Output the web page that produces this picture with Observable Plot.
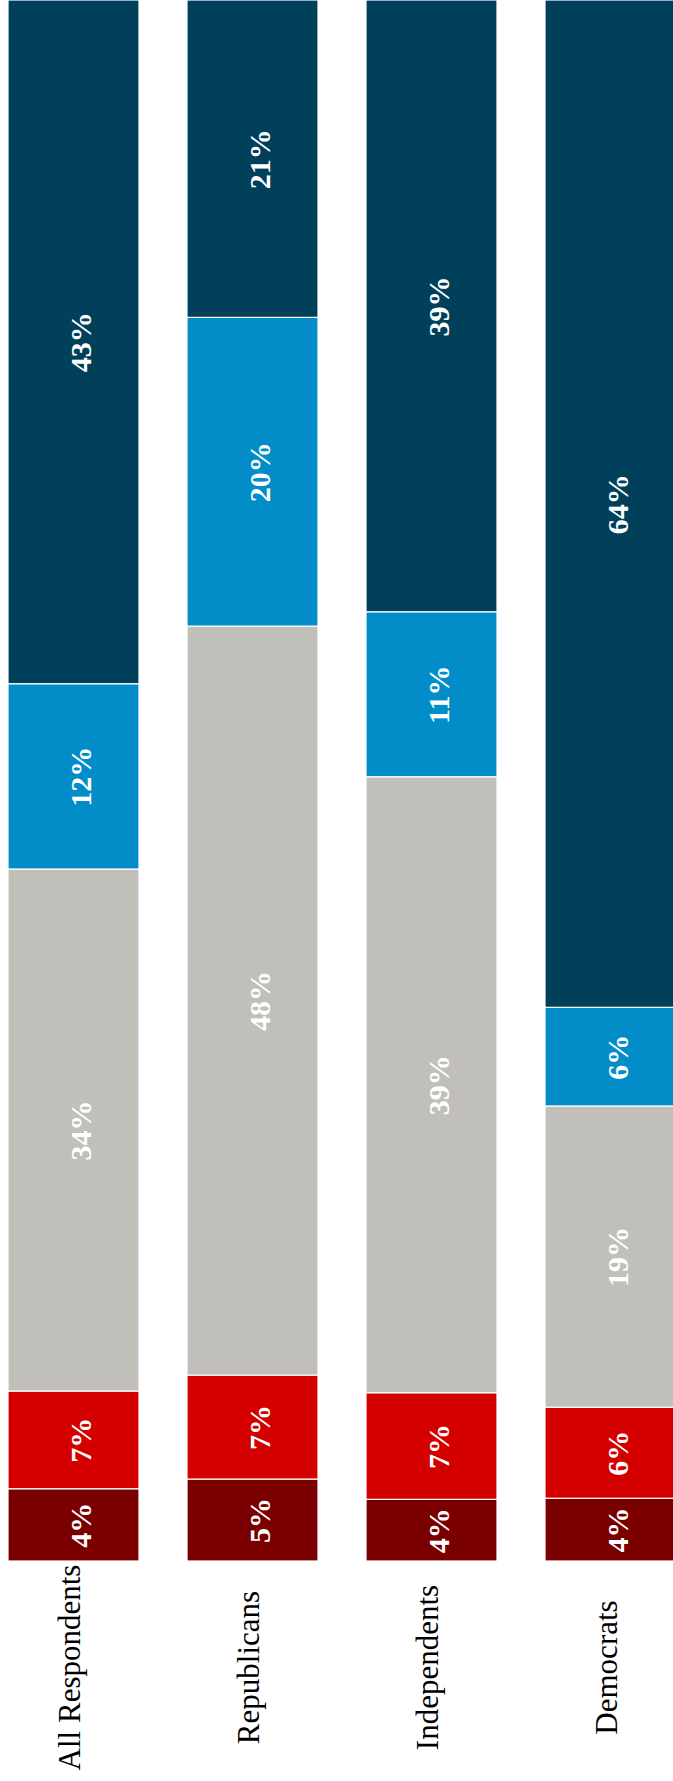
<!DOCTYPE html>
<html>
<head>
<meta charset="utf-8">
<script src="https://cdn.jsdelivr.net/npm/d3@7"></script>
<script src="https://cdn.jsdelivr.net/npm/@observablehq/plot@0.6"></script>
<style>
  html, body { margin: 0; padding: 0; background: #fff; overflow: hidden; }
  #chart svg { display: block; }
</style>
</head>
<body>
<div id="chart"></div>
<script>
// Groups (bars), left to right
const groups = ["All Respondents", "Republicans", "Independents", "Democrats"];

// Stack segments, bottom to top
const series = ["Segment 1", "Segment 2", "Segment 3", "Segment 4", "Segment 5"];
const seriesColors = ["#7a0000", "#d40000", "#c0bfba", "#028dc9", "#01405b"];

// Estimated segment sizes (percent), one array per segment, in group order
const seg1Values = [4.63, 5.25, 3.95, 4.02];
const seg2Values = [6.26, 6.66, 6.83, 5.83];
const seg3Values = [33.44, 47.98, 39.46, 19.30];
const seg4Values = [11.87, 19.78, 10.57, 6.32];
const seg5Values = [43.80, 20.33, 39.19, 64.53];

// Printed labels
const seg1Labels = ["4%", "5%", "4%", "4%"];
const seg2Labels = ["7%", "7%", "7%", "6%"];
const seg3Labels = ["34%", "48%", "39%", "19%"];
const seg4Labels = ["12%", "20%", "11%", "6%"];
const seg5Labels = ["43%", "21%", "39%", "64%"];

const allValues = [seg1Values, seg2Values, seg3Values, seg4Values, seg5Values];
const allLabels = [seg1Labels, seg2Labels, seg3Labels, seg4Labels, seg5Labels];

const data = [];
groups.forEach((g, gi) => {
  series.forEach((s, si) => {
    data.push({group: g, series: s, value: allValues[si][gi], label: allLabels[si][gi]});
  });
});

const serif = "'Liberation Serif', 'Times New Roman', Times, serif";

const chart = Plot.plot({
  width: 673,
  height: 1781,
  marginTop: 0,
  marginBottom: 220,
  marginLeft: 0,
  marginRight: 0,
  style: {background: "white", fontFamily: serif, overflow: "hidden"},
  x: {domain: groups, range: [8.3, 676.8], paddingInner: 0.2654, paddingOuter: 0, axis: null},
  y: {domain: [0, 100], axis: null},
  color: {domain: series, range: seriesColors},
  marks: [
    Plot.barY(data, Plot.stackY({
      x: "group", y: "value", z: "series", fill: "series",
      stroke: "white", strokeWidth: 1.2
    })),
    Plot.text(data, Plot.stackY({
      x: "group", y: "value", z: "series", text: "label",
      rotate: -90, fill: "white", fontWeight: "bold", fontSize: 30,
      fontFamily: serif, dx: 7
    })),
    Plot.text(groups, {
      x: d => d, text: d => d, frameAnchor: "bottom", dy: 106, dx: 6,
      rotate: -90, textAnchor: "middle", fontSize: 31, fill: "black",
      fontFamily: serif
    })
  ]
});

document.getElementById("chart").appendChild(chart);
</script>
</body>
</html>
